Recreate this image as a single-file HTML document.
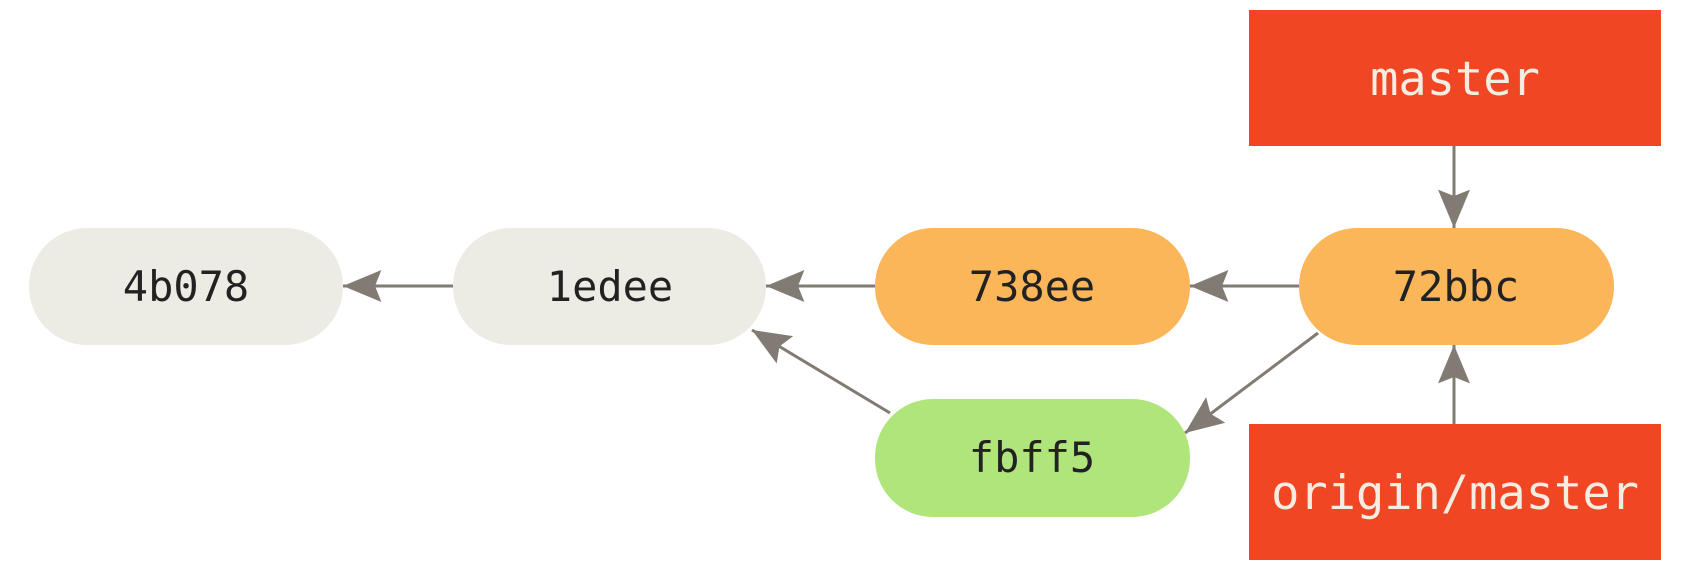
<!DOCTYPE html>
<html><head><style>
html,body{margin:0;padding:0;background:#fff;}
</style></head><body>
<svg width="1682" height="580" xmlns="http://www.w3.org/2000/svg">
<defs>
<marker id="b" viewBox="0 0 12 10" refX="12" refY="5" markerWidth="42" markerHeight="32" markerUnits="userSpaceOnUse" orient="auto">
<path d="M0,0 L12,5 L0,10 L2,5 z" fill="#827b73"/></marker>
</defs>
<g font-family="'DejaVu Sans Mono','Liberation Mono',monospace" text-anchor="middle">
<rect x="1249" y="10" width="412" height="136" fill="#f14623"/>
<text x="1455" y="95" fill="#f5ece2" font-size="47">master</text>
<rect x="1249" y="424" width="412" height="136" fill="#f14623"/>
<text x="1455" y="509" fill="#f5ece2" font-size="47">origin/master</text>
<g font-size="42" fill="#222">
<rect x="29" y="228" width="314" height="117" rx="58" fill="#edece4"/>
<text x="186" y="301">4b078</text>
<rect x="453" y="228" width="313" height="117" rx="58" fill="#edece4"/>
<text x="610" y="301">1edee</text>
<rect x="875" y="228" width="315" height="117" rx="58" fill="#fbb65a"/>
<text x="1032" y="301">738ee</text>
<rect x="1299" y="228" width="315" height="117" rx="58" fill="#fbb65a"/>
<text x="1456" y="301">72bbc</text>
<rect x="875" y="399" width="315" height="118" rx="58" fill="#b0e57c"/>
<text x="1032" y="472">fbff5</text>
</g>
</g>
<g stroke="#827b73" stroke-width="3" fill="none" marker-end="url(#b)">
<line x1="453" y1="286" x2="343" y2="286"/>
<line x1="875" y1="286" x2="766" y2="286"/>
<line x1="1299" y1="286" x2="1190" y2="286"/>
<line x1="1454" y1="146" x2="1454" y2="228"/>
<line x1="1454" y1="424" x2="1454" y2="345"/>
<line x1="890" y1="413" x2="752" y2="330"/>
<line x1="1318" y1="333" x2="1185" y2="433"/>
</g>
</svg>
</body></html>
